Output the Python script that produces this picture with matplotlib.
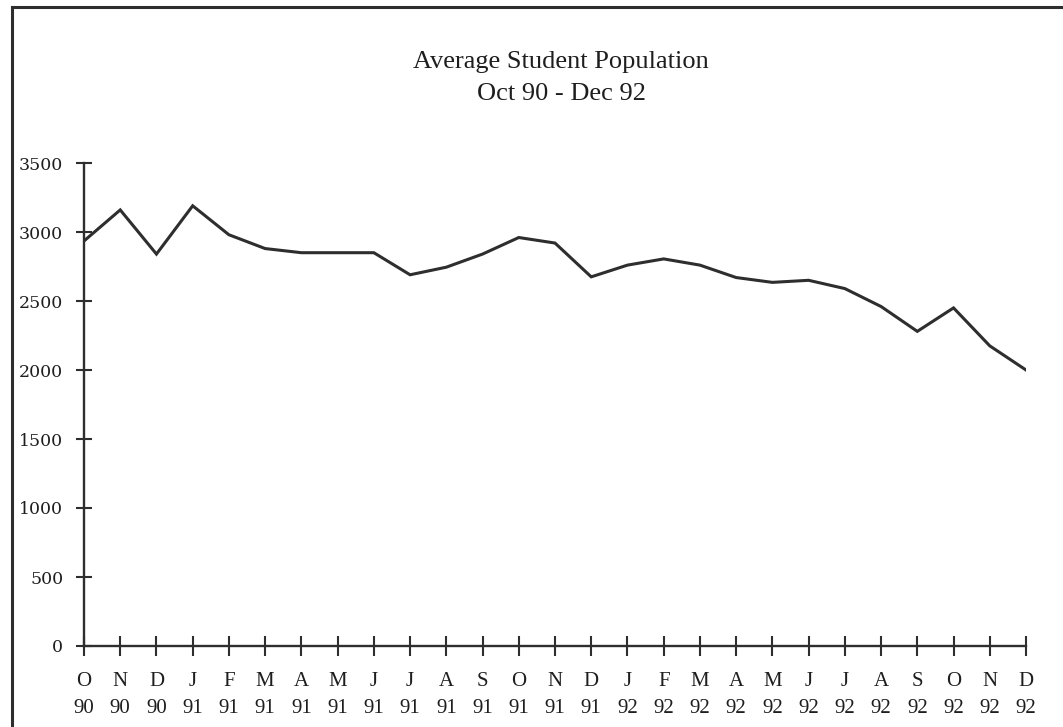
import matplotlib.pyplot as plt
from matplotlib.lines import Line2D

plt.rcParams['font.family'] = ['Liberation Serif', 'DejaVu Serif']

months = ['O', 'N', 'D', 'J', 'F', 'M', 'A', 'M', 'J', 'J', 'A', 'S', 'O',
          'N', 'D', 'J', 'F', 'M', 'A', 'M', 'J', 'J', 'A', 'S', 'O', 'N', 'D']
years = ['90', '90', '90'] + ['91'] * 12 + ['92'] * 12
population = [2935, 3160, 2840, 3190, 2980, 2880, 2850, 2850, 2850, 2690,
              2745, 2840, 2960, 2920, 2675, 2760, 2805, 2760, 2670, 2635,
              2650, 2590, 2460, 2280, 2450, 2175, 2000]

ink = '#2e2e2e'
txt = '#1e1e1e'

fig = plt.figure(figsize=(10.63, 7.27), dpi=100)
ax = fig.add_axes([84 / 1063, 1 - 646 / 727, (1026 - 84) / 1063, (646 - 163) / 727])

xs = list(range(len(population)))
ax.plot(xs, population, color=ink, lw=2.2, solid_joinstyle='miter')

ax.set_xlim(0, len(population) - 1)
ax.set_ylim(0, 3500)
ax.set_yticks(range(0, 3501, 500))
ax.set_xticks(xs)
ax.set_xticklabels([m + '\n' + y for m, y in zip(months, years)], linespacing=1.55)
for lab in ax.get_yticklabels():
    lab.set_family('DejaVu Serif')

for side in ['top', 'right']:
    ax.spines[side].set_visible(False)
for side in ['left', 'bottom']:
    ax.spines[side].set_color(ink)
    ax.spines[side].set_linewidth(1.7)

ax.tick_params(axis='x', direction='inout', length=14, width=1.5, color=ink,
               pad=12, labelsize=15, labelcolor=txt)
ax.tick_params(axis='y', direction='inout', length=12, width=1.5, color=ink,
               pad=9, labelsize=12.5, labelcolor=txt)

fig.text(0.528, 1 - 62 / 727, 'Average Student Population', ha='center', va='center',
         fontsize=19, color=txt)
fig.text(0.528, 1 - 94 / 727, 'Oct 90 - Dec 92', ha='center', va='center',
         fontsize=19, color=txt)

# scanned page frame (top and left edges)
fig.add_artist(Line2D([12 / 1063, 1], [1 - 7 / 727, 1 - 7 / 727], color=ink, lw=2.2))
fig.add_artist(Line2D([12 / 1063, 12 / 1063], [0, 1 - 7 / 727], color=ink, lw=2.2))

fig.savefig('out.png', dpi=100)
